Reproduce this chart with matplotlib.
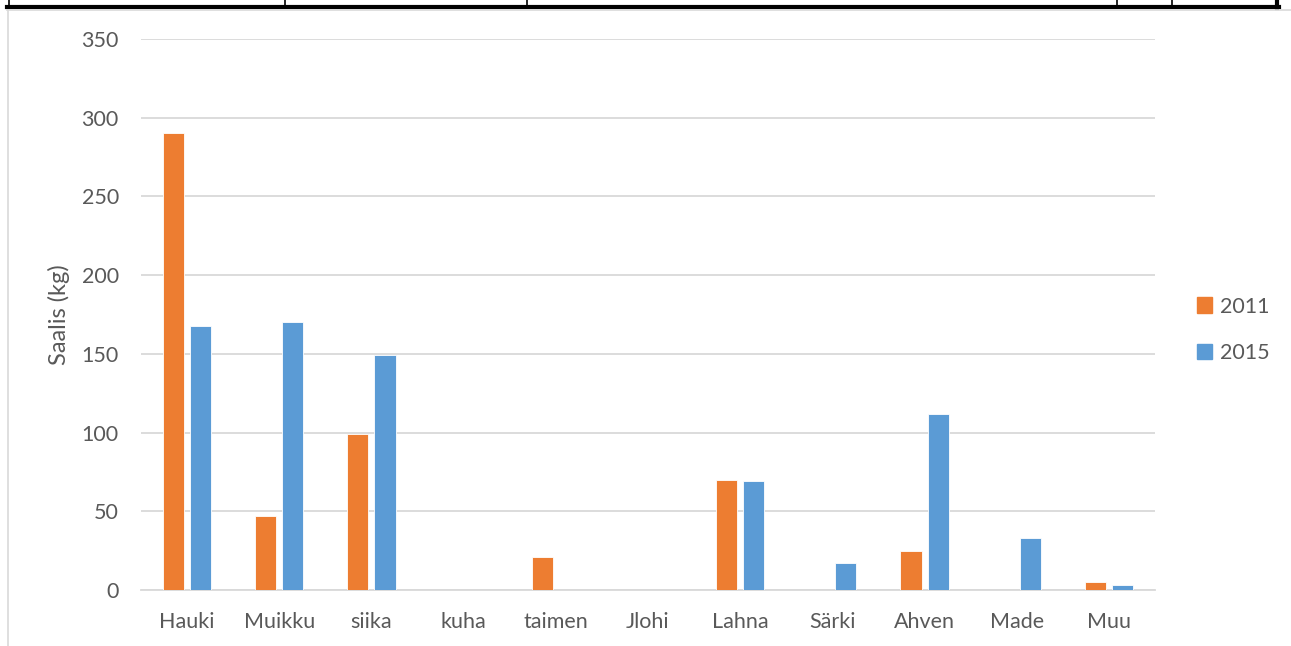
import matplotlib
matplotlib.use("Agg")
import matplotlib.pyplot as plt
import numpy as np
from matplotlib.lines import Line2D

categories = ["Hauki", "Muikku", "siika", "kuha", "taimen", "Jlohi", "Lahna", "Särki", "Ahven", "Made", "Muu"]
v2011 = [290, 47, 99, 0, 21, 0, 70, 0, 25, 0, 5]
v2015 = [168, 170, 149, 0, 0, 0, 69, 17, 112, 33, 3]
yticks = [0, 50, 100, 150, 200, 250, 300, 350]
series_names = ["2011", "2015"]

plt.rcParams['font.family'] = ['Lato', 'DejaVu Sans']
txt = '#595959'
c11 = '#ed7d31'
c15 = '#5b9bd5'

W, H = 1291, 646
fig = plt.figure(figsize=(W/100, H/100), dpi=100)
ax = fig.add_axes([141/W, 1-590/H, (1155-141)/W, (590-39)/H])

x = np.arange(len(categories))
bw = 0.228
off = 0.147
ax.bar(x - off, v2011, bw, color=c11, edgecolor='white', linewidth=0.6, zorder=3, label=series_names[0])
ax.bar(x + off, v2015, bw, color=c15, edgecolor='white', linewidth=0.6, zorder=3, label=series_names[1])

ax.set_xlim(-0.5, len(categories) - 0.5)
ax.set_ylim(0, 350)
ax.set_yticks(yticks)
ax.set_yticklabels([str(t) for t in yticks])
ax.set_xticks(x)
ax.set_xticklabels(categories)
ax.yaxis.grid(True, color='#d9d9d9', linewidth=1.3, zorder=0)
ax.set_axisbelow(True)
for s in ['top', 'right', 'left']:
    ax.spines[s].set_visible(False)
ax.spines['bottom'].set_color('#d9d9d9')
ax.spines['bottom'].set_linewidth(1.3)
ax.tick_params(axis='both', length=0, labelsize=15.5, colors=txt)
ax.tick_params(axis='y', pad=16)
ax.tick_params(axis='x', pad=16)
ax.set_ylabel("Saalis (kg)", fontsize=17, color=txt, labelpad=8)

leg = fig.legend(handles=[plt.Rectangle((0, 0), 1, 1, color=c11), plt.Rectangle((0, 0), 1, 1, color=c15)],
                 labels=series_names, loc='center left', bbox_to_anchor=(1197/W, 1-330/H),
                 frameon=False, fontsize=15.5, labelcolor=txt, handlelength=0.7, handleheight=0.7,
                 handletextpad=0.35, labelspacing=1.25, borderaxespad=0, borderpad=0)

# document table fragment at the top
def fl(x0, y0, x1, y1, lw, c):
    fig.add_artist(Line2D([x0/W, x1/W], [1-y0/H, 1-y1/H], transform=fig.transFigure, color=c, linewidth=lw))

fl(7, 7, 1279, 7, 3.0, 'black')
for xv in [8.5, 285, 527, 1117, 1172]:
    fl(xv, 0, xv, 7, 1.2, 'black')
fl(1277, 0, 1277, 8, 3.0, 'black')
fl(7, 10, 1291, 10, 1.2, '#d9d9d9')
fl(7.5, 10, 7.5, 646, 1.2, '#d9d9d9')

fig.savefig("out.png", dpi=100)
